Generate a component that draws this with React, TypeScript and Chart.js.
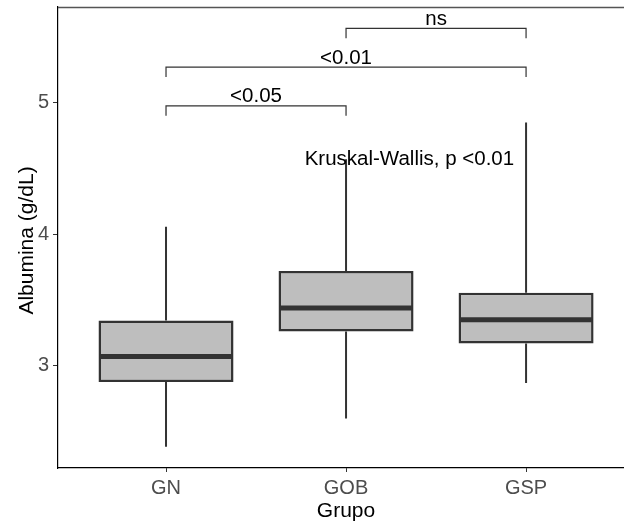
import React, { useEffect, useRef } from "react";
import { Chart, registerables } from "chart.js";

Chart.register(...registerables);

// ---- data ----
const groups = ["GN", "GOB", "GSP"];
const whiskerLow = [2.385, 2.6, 2.87];
const q1 = [2.876, 3.26, 3.17];
const median = [3.07, 3.44, 3.35];
const q3 = [3.345, 3.72, 3.555];
const whiskerHigh = [4.056, 4.57, 4.85];
const yTicks = [3, 4, 5];
const bracketFrom = [1, 1, 2];
const bracketTo = [2, 3, 3];
const bracketY = [4.975, 5.27, 5.565];
const bracketLabels = ["<0.05", "<0.01", "ns"];
const bracketTip = 0.075;
const kwText = "Kruskal-Wallis, p <0.01";
const kwX = 2.352;
const kwY = 4.525;
const xTitle = "Grupo";
const yTitle = "Albumina (g/dL)";

const FONT = "'Liberation Sans', Arial, Helvetica, sans-serif";

const extras = {
  id: "boxExtras",
  beforeDatasetsDraw(chart: any) {
    const { ctx, scales } = chart;
    const x = scales.x;
    const y = scales.y;
    ctx.save();
    ctx.strokeStyle = "#333333";
    ctx.lineWidth = 2;
    groups.forEach((_, i) => {
      const px = x.getPixelForValue(i + 1);
      ctx.beginPath();
      ctx.moveTo(px, y.getPixelForValue(q3[i]));
      ctx.lineTo(px, y.getPixelForValue(whiskerHigh[i]));
      ctx.moveTo(px, y.getPixelForValue(q1[i]));
      ctx.lineTo(px, y.getPixelForValue(whiskerLow[i]));
      ctx.stroke();
    });
    ctx.restore();
  },
  afterDatasetsDraw(chart: any) {
    const { ctx, scales } = chart;
    const x = scales.x;
    const y = scales.y;
    const meta = chart.getDatasetMeta(0);
    ctx.save();
    // medians
    ctx.strokeStyle = "#333333";
    ctx.lineWidth = 5;
    groups.forEach((_, i) => {
      const bar = meta.data[i];
      const w = bar.width;
      const px = x.getPixelForValue(i + 1);
      const py = y.getPixelForValue(median[i]);
      ctx.beginPath();
      ctx.moveTo(px - w / 2 + 1, py);
      ctx.lineTo(px + w / 2 - 1, py);
      ctx.stroke();
    });
    // brackets
    ctx.lineWidth = 1.2;
    ctx.strokeStyle = "#333333";
    ctx.fillStyle = "#000000";
    ctx.font = `20.5px ${FONT}`;
    ctx.textAlign = "center";
    ctx.textBaseline = "alphabetic";
    bracketLabels.forEach((lab, i) => {
      const x1 = x.getPixelForValue(bracketFrom[i]);
      const x2 = x.getPixelForValue(bracketTo[i]);
      const yl = y.getPixelForValue(bracketY[i]);
      const yt = y.getPixelForValue(bracketY[i] - bracketTip);
      ctx.beginPath();
      ctx.moveTo(x1, yt);
      ctx.lineTo(x1, yl);
      ctx.lineTo(x2, yl);
      ctx.lineTo(x2, yt);
      ctx.stroke();
      ctx.fillText(lab, (x1 + x2) / 2, yl - 3.5);
    });
    ctx.fillText(kwText, x.getPixelForValue(kwX), y.getPixelForValue(kwY));
    ctx.restore();
  },
  afterDraw(chart: any) {
    const { ctx, chartArea, scales } = chart;
    ctx.save();
    // top panel line
    ctx.strokeStyle = "#555555";
    ctx.lineWidth = 1.5;
    ctx.beginPath();
    ctx.moveTo(chartArea.left, chartArea.top + 0.5);
    ctx.lineTo(chartArea.right, chartArea.top + 0.5);
    ctx.stroke();
    // axis titles
    ctx.fillStyle = "#000000";
    ctx.font = `21px ${FONT}`;
    ctx.textAlign = "center";
    ctx.textBaseline = "alphabetic";
    ctx.fillText(xTitle, scales.x.getPixelForValue(2), 517);
    ctx.translate(33, (chartArea.top + chartArea.bottom) / 2 + 3);
    ctx.rotate(-Math.PI / 2);
    ctx.fillText(yTitle, 0, 0);
    ctx.restore();
  },
};

export default function App() {
  const ref = useRef<HTMLCanvasElement | null>(null);
  useEffect(() => {
    document.body.style.margin = "0";
    const canvas = ref.current;
    if (!canvas) return;
    const chart = new Chart(canvas, {
      type: "bar",
      data: {
        datasets: [
          {
            data: groups.map((_, i) => ({ x: i + 1, y: [q1[i], q3[i]] })) as any,
            backgroundColor: "#bebebe",
            borderColor: "#333333",
            borderWidth: 2.5,
            borderSkipped: false,
            barPercentage: 0.75,
            categoryPercentage: 1,
          },
        ],
      },
      options: {
        responsive: false,
        animation: false,
        devicePixelRatio: 1,
        layout: { padding: { top: 7, right: 0, left: 0, bottom: 0 } },
        plugins: { legend: { display: false }, tooltip: { enabled: false } },
        scales: {
          x: {
            type: "linear",
            min: 0.4,
            max: 3.544,
            offset: false,
            afterBuildTicks: (scale: any) => {
              scale.ticks = groups.map((_, i) => ({ value: i + 1 }));
            },
            afterFit: (scale: any) => {
              scale.height = 55;
              scale.paddingLeft = 0;
              scale.paddingRight = 0;
            },
            ticks: {
              autoSkip: false,
              maxRotation: 0,
              padding: 4,
              color: "#4d4d4d",
              font: { size: 20, family: FONT },
              callback: (v: any) => groups[Number(v) - 1] ?? "",
            },
            grid: {
              display: true,
              offset: false,
              drawOnChartArea: false,
              drawTicks: true,
              tickLength: 4,
              color: "#333333",
            },
            border: { display: true, color: "#000000", width: 1.2 },
          },
          y: {
            type: "linear",
            min: 2.223,
            max: 5.727,
            afterBuildTicks: (scale: any) => {
              scale.ticks = yTicks.map((v) => ({ value: v }));
            },
            afterFit: (scale: any) => {
              scale.width = 58;
              scale.paddingTop = 0;
              scale.paddingBottom = 0;
            },
            ticks: {
              padding: 4,
              color: "#4d4d4d",
              font: { size: 20, family: FONT },
              callback: (v: any) => String(v),
            },
            grid: {
              display: true,
              drawOnChartArea: false,
              drawTicks: true,
              tickLength: 5,
              color: "#333333",
            },
            border: { display: true, color: "#000000", width: 1.2 },
          },
        },
      },
      plugins: [extras],
    });
    return () => chart.destroy();
  }, []);
  return (
    <canvas
      ref={ref}
      width={624}
      height={523}
      style={{ display: "block", width: 624, height: 523 }}
    />
  );
}
